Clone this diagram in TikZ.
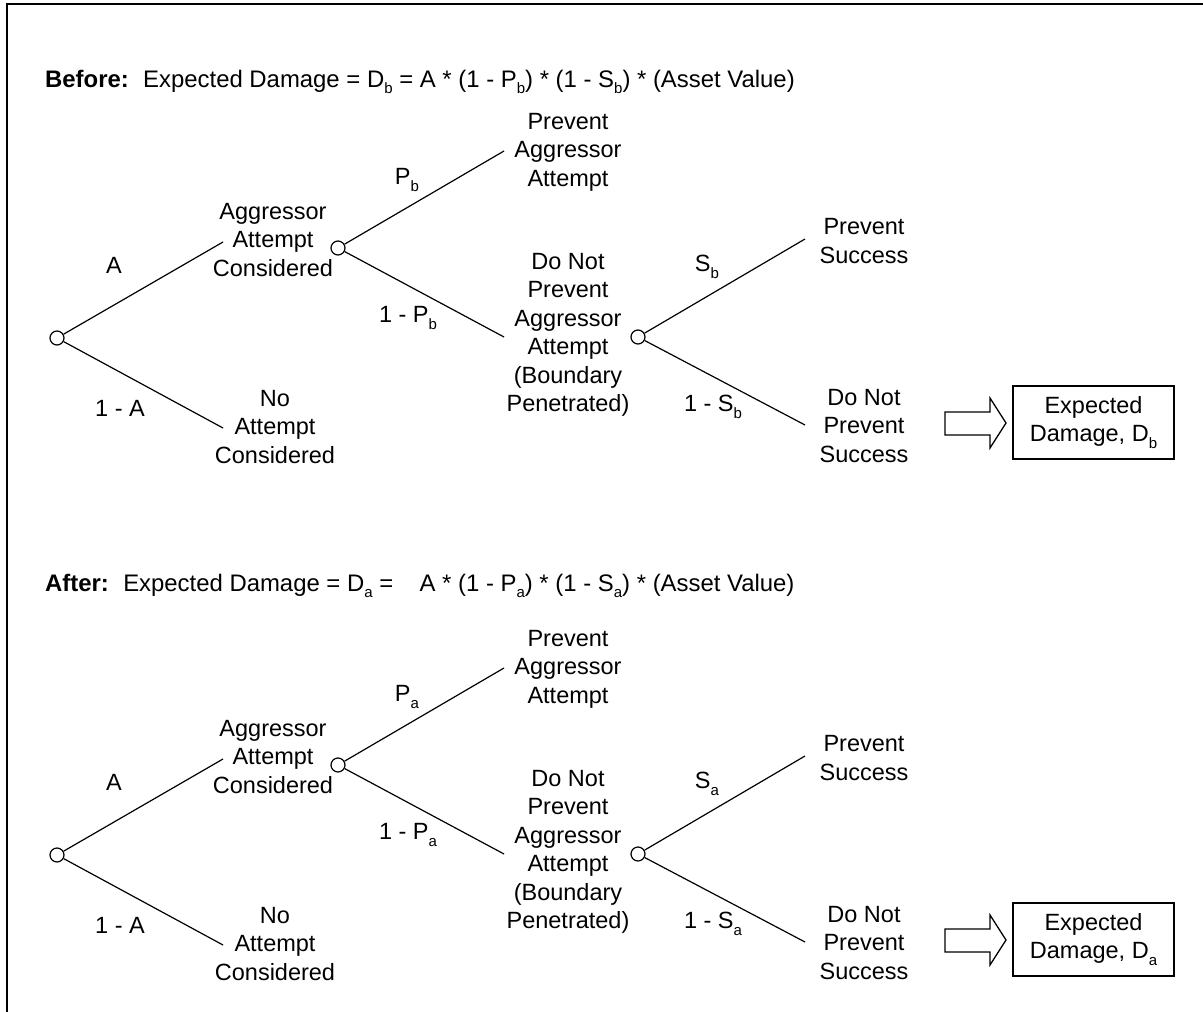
\documentclass[tikz,border=0pt]{standalone}
\usepackage{fontspec}
\setmainfont{Liberation Sans}
\newcommand\sbx[1]{\raisebox{-0.28em}{\fontsize{15}{15}\selectfont #1}}
\tikzset{
  lbl/.style={inner sep=0pt, align=center, font=\fontsize{23.5}{28.5}\selectfont},
  titlelbl/.style={inner sep=0pt, font=\fontsize{23.9}{28.5}\selectfont},
  chance/.style={circle, draw, line width=1.2pt, minimum size=14pt, inner sep=0pt, fill=white},
  branch/.style={line width=1.2pt},
  resultbox/.style={draw, line width=1.4pt, minimum width=161pt, minimum height=73pt, inner sep=0pt, align=center, font=\fontsize{23.5}{28.5}\selectfont},
  bigarrow/.style={draw, line width=1.3pt, fill=white},
  frame/.style={line width=1.6pt}
}
\newcommand\drawtree[2]{%
  \node[chance] (#1r) at (57,338) {};
  \coordinate (#1ea) at (223,242);
  \coordinate (#1en) at (223,428);
  \node[lbl] (#1aac) at (273,240) {Aggressor\\Attempt\\Considered};
  \node[lbl] (#1nac) at (275,427) {No\\Attempt\\Considered};
  \draw[branch] (#1r) -- (#1ea);
  \draw[branch] (#1r) -- (#1en);
  \node[lbl] (#1la) at (114,265) {A};
  \node[lbl] (#1lna) at (120,408) {1 - A};
  \node[chance] (#1c2) at (338,248) {};
  \coordinate (#1ep) at (504,151);
  \coordinate (#1enp) at (504,337);
  \draw[branch] (#1c2) -- (#1ep);
  \draw[branch] (#1c2) -- (#1enp);
  \node[lbl] (#1lp) at (407,180) {P\sbx{#2}};
  \node[lbl] (#1lnp) at (408,318) {1 - P\sbx{#2}};
  \node[lbl] (#1paa) at (568,152) {Prevent\\Aggressor\\Attempt};
  \node[lbl] (#1dnp) at (568,335) {Do Not\\Prevent\\Aggressor\\Attempt\\(Boundary\\Penetrated)};
  \node[chance] (#1c3) at (638,337) {};
  \coordinate (#1es) at (805,239);
  \coordinate (#1ens) at (805,425);
  \draw[branch] (#1c3) -- (#1es);
  \draw[branch] (#1c3) -- (#1ens);
  \node[lbl] (#1ls) at (707,267) {S\sbx{#2}};
  \node[lbl] (#1lns) at (713,407) {1 - S\sbx{#2}};
  \node[lbl] (#1ps) at (864,241) {Prevent\\Success};
  \node[lbl] (#1dnps) at (864,426) {Do Not\\Prevent\\Success};
  \draw[bigarrow] (945,412) -- (990,412) -- (990,398) -- (1006,423) -- (990,448) -- (990,435) -- (945,435) -- cycle;
  \node[resultbox] (#1box) at (1093.5,422.5) {Expected\\Damage, D\sbx{#2}};
}
\begin{document}
\begin{tikzpicture}[x=1pt, y=-1pt]
  \useasboundingbox (0,0) rectangle (1203,1012);
  \draw[frame] (7,1012) -- (7,4) -- (1203,4);
  \node[titlelbl, anchor=base west] (titleb) at (45,87) {\textbf{Before:}\hspace{0.6em}Expected Damage = D\sbx{b} = A * (1 - P\sbx{b}) * (1 - S\sbx{b}) * (Asset Value)};
  \node[titlelbl, anchor=base west] (titlea) at (45,591) {\textbf{After:}\hspace{0.6em}Expected Damage = D\sbx{a} =\hspace{1.1em}A * (1 - P\sbx{a}) * (1 - S\sbx{a}) * (Asset Value)};
  \drawtree{t}{b}
  \begin{scope}[yshift=-517pt]
    \drawtree{u}{a}
  \end{scope}
\end{tikzpicture}
\end{document}
